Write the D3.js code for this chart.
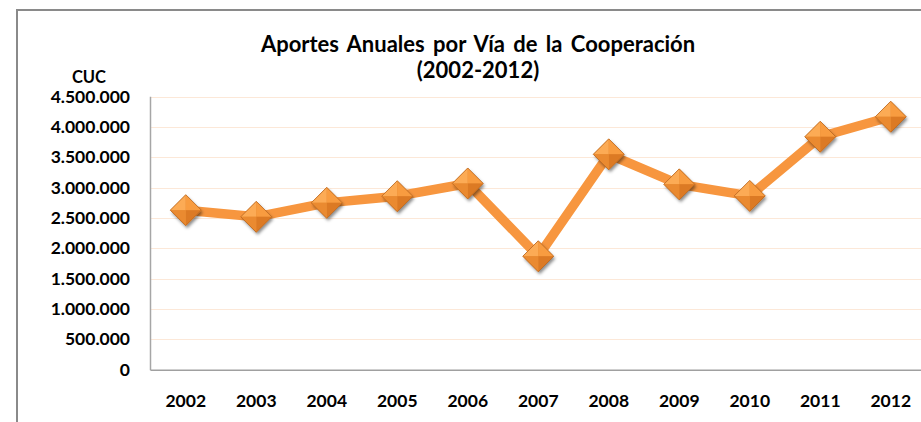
<html lang="es">
  <head>
    <meta charset="utf-8">
    <script src="https://d3js.org/d3.v7.min.js"></script>
    <style type="text/css">
body {
  margin: 0;
  background: white;
  font-family: Lato, "Open Sans", sans-serif;
}
svg text {
  font-family: Lato, "Open Sans", sans-serif;
  font-weight: 700;
  fill: #000;
}
    </style>
  </head>
  <body>
    <div id="chart"></div>
    <script type="text/javascript">
const years = ["2002", "2003", "2004", "2005", "2006", "2007", "2008", "2009", "2010", "2011", "2012"];
const aportes = [2630000, 2520000, 2750000, 2860000, 3070000, 1870000, 3550000, 3055000, 2865000, 3840000, 4170000];
const yTicks = [0, 500000, 1000000, 1500000, 2000000, 2500000, 3000000, 3500000, 4000000, 4500000];

const width = 921;
const height = 422;
const plot = {left: 150.5, right: 926, top: 96.7, bottom: 369.7};

const es = d3.formatLocale({decimal: ",", thousands: ".", grouping: [3], currency: ["", ""]});
const fmt = es.format(",d");

let x = d3.scaleBand()
  .domain(years)
  .range([plot.left, plot.right])
  .paddingInner(0);
let cx = d => x(d) + x.bandwidth() / 2;

let y = d3.scaleLinear()
  .domain([0, 4500000])
  .range([plot.bottom, plot.top]);

let svg = d3.select("#chart").append("svg")
  .attr("width", width)
  .attr("height", height);

let defs = svg.append("defs");
defs.append("filter")
  .attr("id", "shadow")
  .attr("x", "-50%").attr("y", "-50%")
  .attr("width", "200%").attr("height", "200%")
  .append("feDropShadow")
    .attr("dx", 1.5).attr("dy", 2.5)
    .attr("stdDeviation", 1.6)
    .attr("flood-color", "#000")
    .attr("flood-opacity", 0.45);

// outer chart frame
svg.append("path")
  .attr("d", "M17,430 V10 H930")
  .attr("fill", "none")
  .attr("stroke", "#8a8a8a")
  .attr("stroke-width", 2);

// gridlines
svg.append("g")
  .selectAll("line")
  .data(yTicks.filter(d => d > 0))
  .join("line")
    .attr("x1", plot.left)
    .attr("x2", plot.right)
    .attr("y1", d => Math.round(y(d)) + 0.5)
    .attr("y2", d => Math.round(y(d)) + 0.5)
    .attr("stroke", "#fce8d8")
    .attr("stroke-width", 1.2);

// axes lines
svg.append("line")
  .attr("x1", plot.left).attr("x2", plot.left)
  .attr("y1", plot.top).attr("y2", plot.bottom + 0.5)
  .attr("stroke", "#a6a6a6").attr("stroke-width", 1.5);
svg.append("line")
  .attr("x1", plot.left).attr("x2", plot.right)
  .attr("y1", plot.bottom + 0.5).attr("y2", plot.bottom + 0.5)
  .attr("stroke", "#a0a0a0").attr("stroke-width", 1.5);

// y axis labels
let yAxis = g => g
  .attr("transform", `translate(${plot.left},0)`)
  .call(d3.axisLeft(y).tickValues(yTicks).tickSize(0).tickPadding(20.5).tickFormat(fmt))
  .call(g => g.select(".domain").remove())
  .call(g => g.selectAll("text")
    .attr("font-size", 17.5)
    .attr("font-family", null));
svg.append("g").call(yAxis);

svg.append("text")
  .attr("x", 89)
  .attr("y", 83)
  .attr("text-anchor", "middle")
  .attr("font-size", 16.5)
  .text("CUC");

// x axis labels
let xAxis = g => g
  .attr("transform", `translate(0,${plot.bottom})`)
  .call(d3.axisBottom(x).tickSize(0).tickPadding(25))
  .call(g => g.select(".domain").remove())
  .call(g => g.selectAll("text")
    .attr("font-size", 17.5)
    .attr("font-family", null));
svg.append("g").call(xAxis);

// title
svg.append("text")
  .attr("x", 478)
  .attr("y", 52)
  .attr("text-anchor", "middle")
  .attr("font-size", 22)
  .attr("word-spacing", 3)
  .text("Aportes Anuales por Vía de la Cooperación");
svg.append("text")
  .attr("x", 478)
  .attr("y", 78)
  .attr("text-anchor", "middle")
  .attr("font-size", 22)
  .text("(2002-2012)");

// line
let line = d3.line()
  .x((d, i) => cx(years[i]))
  .y(d => y(d));

svg.append("path")
  .datum(aportes)
  .attr("fill", "none")
  .attr("stroke", "#f7963f")
  .attr("stroke-width", 9.5)
  .attr("stroke-linejoin", "round")
  .attr("d", line);

// diamond markers with bevelled facets
const r = 15.5;
const facets = [
  {pts: [[0, 0], [-r, 0], [0, -r]], fill: "#fcab55"},
  {pts: [[0, 0], [0, -r], [r, 0]], fill: "#f89c40"},
  {pts: [[0, 0], [r, 0], [0, r]], fill: "#dc7a24"},
  {pts: [[0, 0], [0, r], [-r, 0]], fill: "#ea8a30"}
];

let markers = svg.append("g")
  .selectAll("g")
  .data(aportes)
  .join("g")
    .attr("transform", (d, i) => `translate(${cx(years[i])},${y(d)})`);

markers.append("path")
  .attr("d", `M0,${-r}L${r},0L0,${r}L${-r},0Z`)
  .attr("fill", "#e68a33")
  .attr("filter", "url(#shadow)");

markers.selectAll("polygon")
  .data(facets)
  .join("polygon")
    .attr("points", f => f.pts.map(p => p.join(",")).join(" "))
    .attr("fill", f => f.fill);

markers.append("path")
  .attr("d", `M0,${-r}L${r},0L0,${r}L${-r},0Z`)
  .attr("fill", "none")
  .attr("stroke", "#b9661f")
  .attr("stroke-width", 0.8);
    </script>
  </body>
</html>
